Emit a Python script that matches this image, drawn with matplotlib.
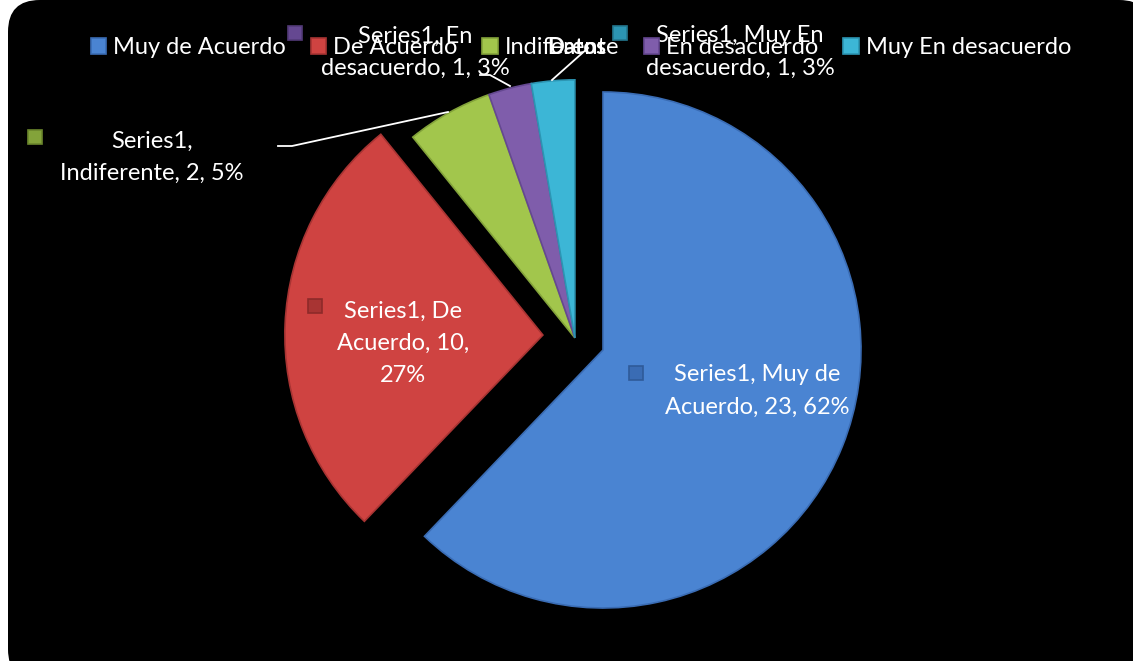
import matplotlib.pyplot as plt
from matplotlib.patches import FancyBboxPatch, Rectangle

plt.rcParams['font.family'] = ['Lato', 'DejaVu Sans']

categorias = ["Muy de Acuerdo", "De Acuerdo", "Indiferente", "En desacuerdo", "Muy En desacuerdo"]
valores = [23, 10, 2, 1, 1]
porcentajes = ["62%", "27%", "5%", "3%", "3%"]
serie = "Series1"
titulo = "Datos"

colores = ["#4a84d2", "#cf4341", "#a2c64c", "#7f5dab", "#3cb6d6"]
bordes = ["#3a6cb4", "#a83433", "#83a33a", "#654891", "#2c95b3"]
oscuros = ["#2f5a99", "#8e2a29", "#6a862c", "#523a78", "#23788f"]

W, H = 1133, 661
fig = plt.figure(figsize=(W / 100, H / 100), dpi=100)
fig.patch.set_facecolor("white")

# fondo negro redondeado
bg = FancyBboxPatch((8 / W, -20 / H), (W + 10) / W, (H + 20) / H,
                    boxstyle="round,pad=0,rounding_size=0.028",
                    transform=fig.transFigure, facecolor="black", edgecolor="none",
                    mutation_aspect=W / H, zorder=-5)
fig.patches.append(bg)

ax = fig.add_axes([0, 0, 1, 1])
ax.patch.set_alpha(0)
R = 258.0
cx, cy = 603, 350
wedges, _ = ax.pie(valores, colors=colores, startangle=90, counterclock=False,
                   radius=1.0, wedgeprops=dict(linewidth=1.2))
for w, ec in zip(wedges, bordes):
    w.set_edgecolor(ec)

# desplazamiento de cada porcion (en radios)
despl = [(0, 0), (-0.233, 0.058), (-0.109, 0.047), (-0.109, 0.047), (-0.109, 0.047)]
for w, d in zip(wedges, despl):
    w.set_center(d)

ax.set_xlim(-cx / R, (W - cx) / R)
ax.set_ylim(-(H - cy) / R, cy / R)
ax.set_aspect("auto")
ax.axis("off")


def fx(x):
    return x / W


def fy(y):
    return 1 - y / H


fs = 17
leg = fig.legend(wedges, categorias, loc="center", bbox_to_anchor=(fx(581), fy(48)),
                 ncol=5, frameon=False, fontsize=fs, labelcolor="white",
                 handlelength=0.65, handleheight=0.65, handletextpad=0.3,
                 columnspacing=1.05)

fig.text(fx(577), fy(47), titulo, color="white", fontsize=fs - 1, fontweight="bold",
         ha="center", va="center")

etiquetas = [
    (757, 391, f"{serie}, Muy de\nAcuerdo, 23, {porcentajes[0]}", 636, 373),
    (403, 343, f"{serie}, De\nAcuerdo, 10,\n{porcentajes[1]}", 315, 306),
    (152, 157, f"{serie},\nIndiferente, 2, {porcentajes[2]}", 35, 137),
    (415, 52, f"{serie}, En\ndesacuerdo, 1, {porcentajes[3]}", 295, 33),
    (740, 52, f"{serie}, Muy En\ndesacuerdo, 1, {porcentajes[4]}", 620, 33),
]
for (x, y, t, mx, my), c, ec, dk in zip(etiquetas, colores, bordes, oscuros):
    fig.text(fx(x), fy(y), t, color="white", fontsize=fs, ha="center", va="center",
             linespacing=1.65)
    fig.patches.append(Rectangle((fx(mx - 7), fy(my + 7)), 14 / W, 14 / H,
                                 transform=fig.transFigure, facecolor=ec,
                                 edgecolor=dk, linewidth=1.2))

# lineas guia
lineas = [
    ([278, 292, 448], [146, 146, 112]),
    ([480, 490, 510], [75, 75, 86]),
    ([552, 588], [80, 48]),
]
for xs, ys in lineas:
    fig.add_artist(plt.Line2D([fx(v) for v in xs], [fy(v) for v in ys],
                              transform=fig.transFigure, color="white", linewidth=1.3))

fig.savefig("out.png", dpi=100, facecolor=fig.get_facecolor())
